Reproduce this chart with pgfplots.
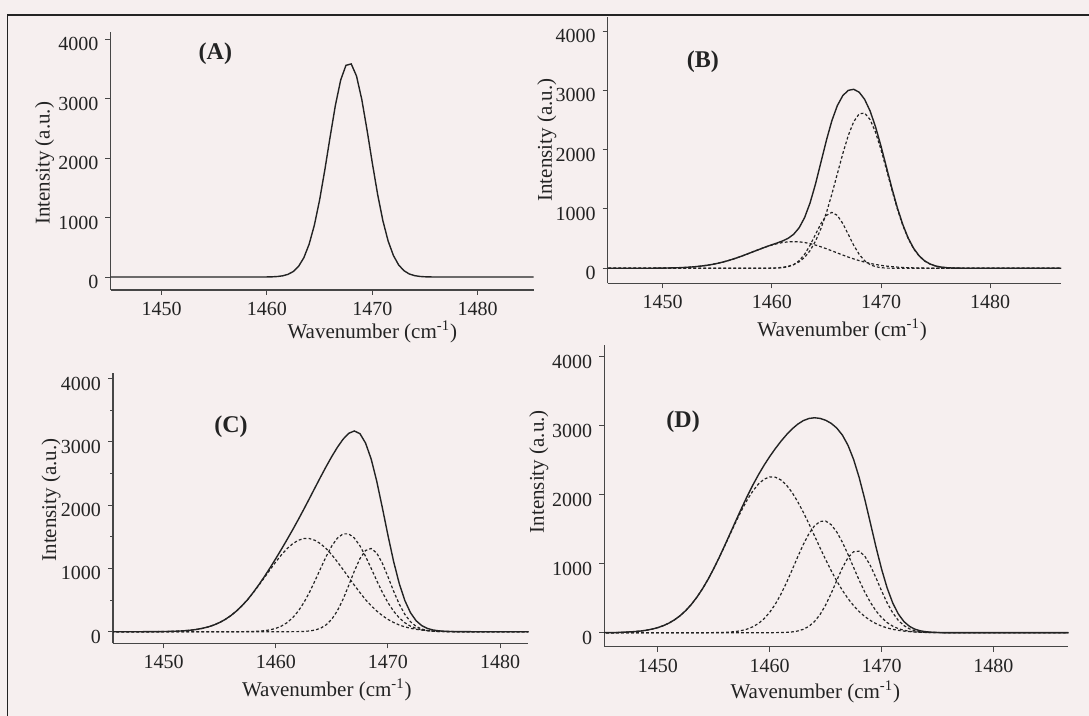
\documentclass[border=0pt]{standalone}
\usepackage{fontspec}
\setmainfont{Liberation Serif}
\usepackage{pgfplots}
\pgfplotsset{compat=1.18}
\definecolor{bgpink}{RGB}{246,239,239}
\definecolor{ink}{RGB}{35,35,35}
\definecolor{axisc}{RGB}{70,70,70}
\tikzset{plab/.style={font=\fontsize{12}{14}\selectfont\bfseries, text=ink}}
\pgfplotsset{
  panel/.style={
    scale only axis,
    anchor=south west,
    axis lines*=left,
    xtick={1450,1460,1470,1480},
    ytick={0,1000,2000,3000,4000},
    tick align=outside,
    major tick length=2.5pt,
    minor tick length=1.5pt,
    tick style={line width=0.5pt, color=axisc},
    axis line style={line width=0.7pt, color=axisc},
    ticklabel style={font=\fontsize{10}{12}\selectfont, text=ink},
    yticklabel style={yshift=-2.5pt},
    /pgf/number format/assume math mode=true,
    /pgf/number format/set thousands separator={},
    scaled ticks=false,
    xlabel={Wavenumber (cm\textsuperscript{-1})},
    ylabel={Intensity (a.u.)},
    label style={font=\fontsize{10.5}{12}\selectfont, text=ink},
    clip=true,
  },
  comp/.style={line width=0.6pt, color=ink, dash pattern=on 1.4pt off 1.1pt},
  tot/.style={line width=0.7pt, color=ink},
}

\begin{document}
\begin{tikzpicture}
\useasboundingbox (0,0) rectangle (544.5pt,-358pt);
\fill[bgpink] (0,0) rectangle (544.5pt,-358pt);
\draw[ink, line width=0.8pt] (3.8pt,-360pt) -- (3.8pt,-7.5pt) -- (546pt,-7.5pt);

% ---------------- (A)
\begin{axis}[panel, at={(55.25pt,-145pt)}, width=211.5pt, height=129pt,
  xmin=1445.15, xmax=1485.3, ymin=-218, ymax=4118,
  xlabel style={at={(axis description cs:0.619,0)}, anchor=base, yshift=-24.2pt},
  ylabel style={at={(axis description cs:-0.156,0.491)}, anchor=center}]
\addplot[tot] coordinates {(1440,0) (1459.5,0) (1460,1.3) (1460.5,3.5) (1461,8.8) (1461.5,20.6) (1462,45.2) (1462.5,93) (1463,179) (1463.5,324) (1464,550) (1464.5,872) (1465,1297) (1465.5,1808) (1466,2361) (1466.5,2889) (1467,3312) (1467.5,3558) (1468,3581) (1468.5,3378) (1469,2985) (1469.5,2471) (1470,1917) (1470.5,1394) (1471,949) (1471.5,606) (1472,363) (1472.5,203) (1473,107) (1473.5,52) (1474,24) (1474.5,10) (1475,4) (1475.5,1.6) (1476,0) (1490,0)};
\node[plab] at (axis description cs:0.248,0.917) {(A)};
\end{axis}

% ---------------- (B)
\begin{axis}[panel, at={(303.85pt,-141.65pt)}, width=226.75pt, height=133.3pt,
  xmin=1444.97, xmax=1486.5, ymin=-253, ymax=4243,
  xlabel style={at={(axis description cs:0.517,0)}, anchor=base, yshift=-26.5pt},
  ylabel style={at={(axis description cs:-0.134,0.5375)}, anchor=center}]
\addplot[comp] coordinates {(1440,0)(1447,0)(1448,0.5)(1449,1.3)(1450,3.1)(1450.5,4.6)(1451,6.8)(1451.5,9.9)(1452,14.1)(1452.5,19.8)(1453,27.2)(1453.5,36.9)(1454,49.1)(1454.5,64.2)(1455,82.5)(1455.5,104.2)(1456,129.4)(1456.5,157.9)(1457,189.4)(1457.5,223.2)(1458,258.6)(1458.5,294.4)(1459,329.5)(1459.5,362.4)(1460,391.8)(1460.5,416.3)(1461,434.7)(1461.5,446.1)(1462,450)(1462.5,446.1)(1463,434.7)(1463.5,416.3)(1464,391.8)(1464.5,362.4)(1465,329.5)(1465.5,294.4)(1466,258.6)(1466.5,223.2)(1467,189.4)(1467.5,157.9)(1468,129.4)(1468.5,104.2)(1469,82.5)(1469.5,64.2)(1470,49.1)(1470.5,36.9)(1471,27.2)(1471.5,19.8)(1472,14.1)(1472.5,9.9)(1473,6.8)(1473.5,4.6)(1474,3.1)(1475,1.3)(1476,0.5)(1477,0)(1490,0)};
\addplot[comp] coordinates {(1440,0)(1459.5,0.3)(1460,1.1)(1460.5,3.6)(1461,10.5)(1461.5,26.9)(1462,62.0)(1462.5,127.6)(1463,235.2)(1463.5,387.7)(1464,572.0)(1464.5,755.1)(1465,892.1)(1465.5,943)(1466,892.1)(1466.5,755.1)(1467,572.0)(1467.5,387.7)(1468,235.2)(1468.5,127.6)(1469,62.0)(1469.5,26.9)(1470,10.5)(1470.5,3.6)(1471,1.1)(1471.5,0.3)(1490,0)};
\addplot[comp] coordinates {(1440,0)(1459,0.7)(1459.5,1.7)(1460,3.9)(1460.5,8.4)(1461,17.1)(1461.5,33.2)(1462,61.7)(1462.5,109.3)(1463,184.7)(1463.5,297.7)(1464,457.5)(1464.5,671.0)(1465,938.6)(1465.5,1252.2)(1466,1593.4)(1466.5,1934.0)(1467,2239.3)(1467.5,2472.8)(1468,2604.7)(1468.5,2617.1)(1469,2508.1)(1469.5,2292.7)(1470,1999.1)(1470.5,1662.5)(1471,1319.0)(1471.5,998.0)(1472,720.2)(1472.5,495.8)(1473,325.6)(1473.5,203.9)(1474,121.8)(1474.5,69.4)(1475,37.7)(1475.5,19.6)(1476,9.7)(1476.5,4.6)(1477,2.1)(1478,0)(1490,0)};
\addplot[tot] coordinates {(1440,0)(1447,0)(1448,0.5)(1449,1.3)(1450,3.1)(1450.5,4.6)(1451,6.8)(1451.5,9.9)(1452,14.1)(1452.5,19.8)(1453,27.2)(1453.5,36.9)(1454,49.1)(1454.5,64.2)(1455,82.5)(1455.5,104.2)(1456,129.4)(1456.5,157.9)(1457,189.4)(1457.5,223.2)(1458,258.6)(1458.5,294.4)(1459,329.5)(1459.5,364.4)(1460,396.8)(1460.5,428.3)(1461,462.3)(1461.5,506.2)(1462,573.7)(1462.5,683.0)(1463,854.6)(1463.5,1101.7)(1464,1421.3)(1464.5,1788.5)(1465,2160.2)(1465.5,2489.6)(1466,2744.1)(1466.5,2912.3)(1467,3000.7)(1467.5,3018.4)(1468,2969.3)(1468.5,2848.9)(1469,2652.6)(1469.5,2383.8)(1470,2058.7)(1470.5,1703.0)(1471,1347.3)(1471.5,1018.1)(1472,734.3)(1472.5,505.7)(1473,332.4)(1473.5,208.5)(1474,124.9)(1474.5,71.4)(1475,39.0)(1475.5,20.4)(1476,10.2)(1476.5,4.9)(1477,2.3)(1478,0)(1490,0)};
\node[plab] at (axis description cs:0.21,0.831) {(B)};
\end{axis}

% ---------------- (C)
\begin{axis}[panel, at={(56.5pt,-321.65pt)}, width=207.65pt, height=135pt,
  xmin=1445.5, xmax=1482.5, ymin=-183, ymax=4082,
  minor y tick num=1,
  xlabel style={at={(axis description cs:0.515,0)}, anchor=base, yshift=-26.5pt},
  ylabel style={at={(axis description cs:-0.149,0.531)}, anchor=center}]
\addplot[comp] coordinates {(1440,0)(1448,0)(1449.5,1.7)(1450,2.8)(1450.5,4.5)(1451,7.2)(1451.5,11.2)(1452,17.1)(1452.5,25.6)(1453,37.7)(1453.5,54.4)(1454,76.9)(1454.5,106.8)(1455,145.4)(1455.5,194.1)(1456,254.3)(1456.5,326.8)(1457,411.9)(1457.5,506.3)(1458,617.7)(1458.5,734.8)(1459,857.4)(1459.5,981.3)(1460,1101.7)(1460.5,1213.3)(1461,1310.6)(1461.5,1388.7)(1462,1443.3)(1462.5,1471.4)(1463,1471.4)(1463.5,1443.3)(1464,1388.7)(1464.5,1310.6)(1465,1213.3)(1465.5,1101.7)(1466,981.3)(1466.5,857.4)(1467,734.8)(1467.5,617.7)(1468,506.3)(1468.5,411.9)(1469,326.8)(1469.5,254.3)(1470,194.1)(1470.5,145.4)(1471,106.8)(1471.5,76.9)(1472,54.4)(1472.5,37.7)(1473,25.6)(1473.5,17.1)(1474,11.2)(1474.5,7.2)(1475,4.5)(1475.5,2.8)(1476,1.7)(1477.5,0)(1490,0)};
\addplot[comp] coordinates {(1440,0)(1456,0)(1457.5,2.0)(1458,4.2)(1458.5,8.5)(1459,16.2)(1459.5,29.8)(1460,52.3)(1460.5,88.1)(1461,142.0)(1461.5,219.2)(1462,324.0)(1462.5,458.5)(1463,621.2)(1463.5,806.0)(1464,1001.4)(1464.5,1191.3)(1465,1356.9)(1465.5,1480.0)(1466,1545.6)(1466.5,1545.6)(1467,1480.0)(1467.5,1356.9)(1468,1191.3)(1468.5,1001.4)(1469,806.0)(1469.5,621.2)(1470,458.5)(1470.5,324.0)(1471,219.2)(1471.5,142.0)(1472,88.1)(1472.5,52.3)(1473,29.8)(1473.5,16.2)(1474,8.5)(1474.5,4.2)(1475,2.0)(1476.5,0)(1490,0)};
\addplot[comp] coordinates {(1440,0)(1460.5,0)(1462,1.6)(1462.5,4.5)(1463,11.3)(1463.5,26.1)(1464,55.8)(1464.5,109.9)(1465,199.5)(1465.5,333.6)(1466,514.3)(1466.5,730.5)(1467,956.3)(1467.5,1153.9)(1468,1283.0)(1468.5,1314.9)(1469,1241.8)(1469.5,1080.9)(1470,867.1)(1470.5,641.0)(1471,436.8)(1471.5,274.3)(1472,158.7)(1472.5,84.7)(1473,41.6)(1473.5,18.8)(1474,7.9)(1474.5,3.0)(1475,1.1)(1476,0)(1490,0)};
\addplot[tot] coordinates {(1440,0)(1448,0)(1449.5,1.7)(1450,2.8)(1450.5,4.5)(1451,7.2)(1451.5,11.2)(1452,17.1)(1452.5,25.6)(1453,37.7)(1453.5,54.4)(1454,76.9)(1454.5,106.8)(1455,145.4)(1455.5,194.1)(1456,254.3)(1456.5,326.8)(1457,411.9)(1457.5,508.3)(1458,621.9)(1458.5,743.3)(1459,873.6)(1459.5,1011.1)(1460,1154.0)(1460.5,1301.4)(1461,1452.6)(1461.5,1607.9)(1462,1768.9)(1462.5,1934.4)(1463,2103.9)(1463.5,2275.4)(1464,2445.9)(1464.5,2611.8)(1465,2769.7)(1465.5,2915.3)(1466,3041.2)(1466.5,3133.5)(1467,3171.1)(1467.5,3128.5)(1468,2980.6)(1468.5,2728.2)(1469,2374.6)(1469.5,1956.4)(1470,1519.7)(1470.5,1110.4)(1471,762.8)(1471.5,493.2)(1472,301.2)(1472.5,174.7)(1473,97.0)(1473.5,52.1)(1474,27.6)(1474.5,14.4)(1475,7.6)(1475.5,3.8)(1476,2.2)(1477.5,0)(1490,0)};
\node[plab] at (axis description cs:0.284,0.802) {(C)};
\end{axis}

% ---------------- (D)
\begin{axis}[panel, at={(302.1pt,-323.35pt)}, width=232.05pt, height=150.85pt,
  xmin=1445.2, xmax=1486.7, ymin=-203, ymax=4170,
  xlabel style={at={(axis description cs:0.455,0)}, anchor=base, yshift=-25.8pt},
  ylabel style={at={(axis description cs:-0.1407,0.58)}, anchor=center}]
\addplot[comp] coordinates {(1440,0)(1446,0)(1447,7.4)(1447.5,11.3)(1448,17.0)(1448.5,25.1)(1449,36.6)(1449.5,52.5)(1450,74.0)(1450.5,102.6)(1451,140.0)(1451.5,187.8)(1452,247.9)(1452.5,321.9)(1453,411.3)(1453.5,516.9)(1454,639.0)(1454.5,777.1)(1455,929.5)(1455.5,1093.8)(1456,1266.1)(1456.5,1441.7)(1457,1614.8)(1457.5,1779.2)(1458,1928.4)(1458.5,2056.1)(1459,2156.5)(1459.5,2224.9)(1460,2258.0)(1460.5,2254.3)(1461,2213.9)(1461.5,2138.8)(1462,2032.6)(1462.5,1900.1)(1463,1747.4)(1463.5,1580.6)(1464,1406.6)(1464.5,1231.2)(1465,1060.2)(1465.5,898.0)(1466,748.3)(1466.5,613.3)(1467,494.5)(1467.5,392.2)(1468,306.0)(1468.5,234.9)(1469,177.3)(1469.5,131.7)(1470,96.2)(1470.5,69.1)(1471,48.9)(1471.5,34.0)(1472,23.2)(1472.5,15.6)(1473,10.4)(1473.5,6.7)(1474,4.3)(1475,1.7)(1476,0)(1490,0)};
\addplot[comp] coordinates {(1440,0)(1454,0)(1455,1.4)(1455.5,2.7)(1456,5.3)(1456.5,9.9)(1457,18.0)(1457.5,31.5)(1458,53.1)(1458.5,86.2)(1459,134.8)(1459.5,203.2)(1460,295.3)(1460.5,413.4)(1461,557.8)(1461.5,725.3)(1462,908.8)(1462.5,1097.5)(1463,1277.2)(1463.5,1432.3)(1464,1548.0)(1464.5,1612.2)(1465,1618.2)(1465.5,1565.2)(1466,1459.0)(1466.5,1310.6)(1467,1134.6)(1467.5,946.6)(1468,761.0)(1468.5,589.6)(1469,440.2)(1469.5,316.8)(1470,219.7)(1470.5,146.8)(1471,94.5)(1471.5,58.7)(1472,35.1)(1472.5,20.2)(1473,11.2)(1473.5,6.0)(1474,3.1)(1474.5,1.5)(1475.5,0)(1490,0)};
\addplot[comp] coordinates {(1440,0)(1460,0)(1461,2.0)(1461.5,4.9)(1462,11.3)(1462.5,24.3)(1463,48.8)(1463.5,91.7)(1464,160.8)(1464.5,262.9)(1465,401.1)(1465.5,571.0)(1466,758.5)(1466.5,940.1)(1467,1087.2)(1467.5,1173.3)(1468,1181.4)(1468.5,1110.1)(1469,973.2)(1469.5,796.1)(1470,607.7)(1470.5,432.8)(1471,287.6)(1471.5,178.4)(1472,103.2)(1472.5,55.7)(1473,28.1)(1473.5,13.2)(1474,5.8)(1474.5,2.4)(1475,1.0)(1476,0)(1490,0)};
\addplot[tot] coordinates {(1440,0)(1446,0)(1447,7.4)(1447.5,11.3)(1448,17.0)(1448.5,25.1)(1449,36.6)(1449.5,52.5)(1450,74.0)(1450.5,102.6)(1451,140.0)(1451.5,187.8)(1452,247.9)(1452.5,321.9)(1453,411.3)(1453.5,516.9)(1454,639.0)(1454.5,777.1)(1455,930.9)(1455.5,1096.5)(1456,1271.4)(1456.5,1451.6)(1457,1632.8)(1457.5,1810.7)(1458,1981.5)(1458.5,2142.3)(1459,2291.3)(1459.5,2428.1)(1460,2553.3)(1460.5,2667.7)(1461,2773.7)(1461.5,2869.0)(1462,2952.7)(1462.5,3021.9)(1463,3073.4)(1463.5,3104.6)(1464,3115.4)(1464.5,3106.3)(1465,3079.5)(1465.5,3034.2)(1466,2965.8)(1466.5,2864.0)(1467,2716.3)(1467.5,2512.1)(1468,2248.4)(1468.5,1934.6)(1469,1590.7)(1469.5,1244.6)(1470,923.6)(1470.5,648.7)(1471,431.0)(1471.5,271.1)(1472,161.5)(1472.5,91.5)(1473,49.7)(1473.5,25.9)(1474,13.2)(1474.5,6.6)(1475,3.4)(1476,0)(1490,0)};
\node[plab] at (axis description cs:0.170,0.746) {(D)};
\end{axis}
\end{tikzpicture}
\end{document}
